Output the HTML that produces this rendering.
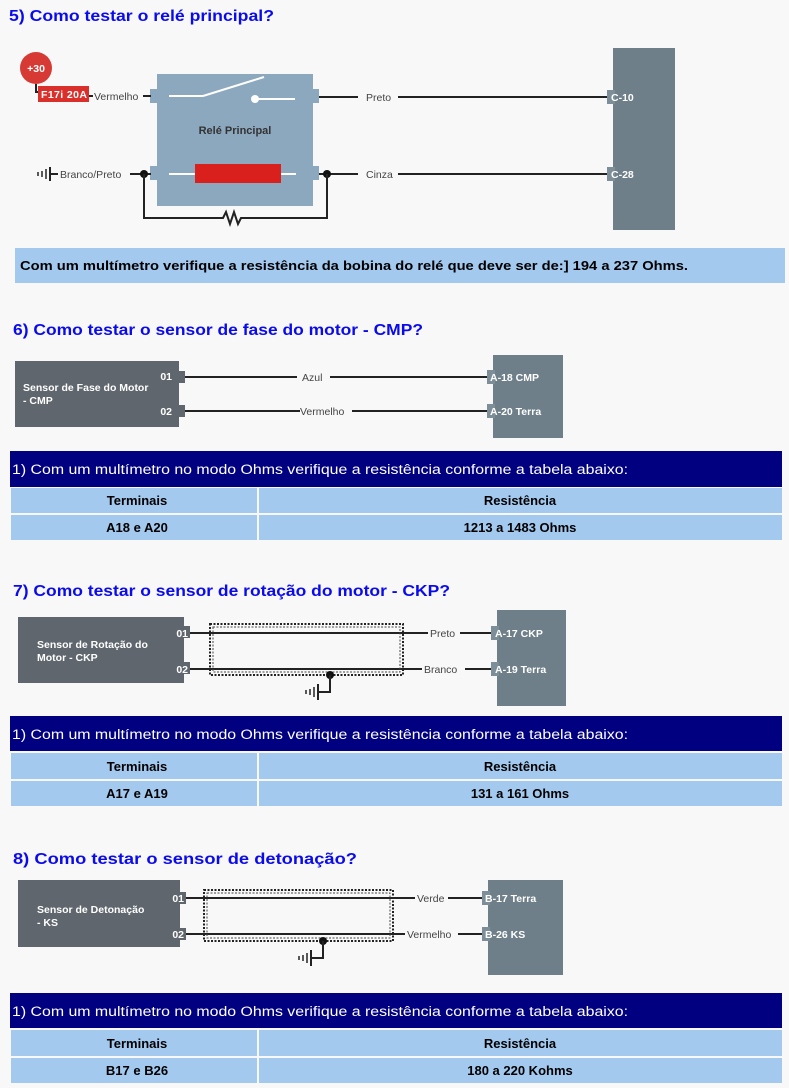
<!DOCTYPE html>
<html><head><meta charset="utf-8"><style>
html,body{margin:0;padding:0;background:#f8f8f8;}
svg{display:block;font-family:"Liberation Sans",Arial,sans-serif;}
.t{fill:#0a0aee;font-weight:bold;font-size:16px;}
.l{fill:#444;font-size:10.5px;}
.w{fill:#fff;font-weight:bold;font-size:10.5px;}
.nb{fill:#fff;font-size:13.5px;}
.tb{fill:#000;font-size:13px;font-weight:bold;}
.wire{stroke:#222;stroke-width:2;fill:none;}
.tab{fill:#7d8e99;}
</style></head><body>
<svg width="789" height="1088" viewBox="0 0 789 1088">
<!-- Section 5 -->
<text class="t" x="9" y="21" textLength="265" lengthAdjust="spacingAndGlyphs">5) Como testar o relé principal?</text>
<rect x="613" y="48" width="62" height="182" fill="#6e7f8a"/>
<rect x="607" y="90" width="8" height="14" class="tab"/>
<rect x="607" y="167" width="8" height="14" class="tab"/>
<rect x="157" y="74" width="156" height="132" fill="#8ca8bf"/>
<rect x="150" y="89" width="8" height="14" fill="#8ca8bf"/>
<rect x="150" y="166" width="8" height="14" fill="#8ca8bf"/>
<rect x="312" y="89" width="7" height="14" fill="#8ca8bf"/>
<rect x="312" y="166" width="7" height="14" fill="#8ca8bf"/>
<line x1="169" y1="96" x2="203" y2="96" stroke="#fff" stroke-width="2"/>
<line x1="203" y1="96" x2="264" y2="77" stroke="#fff" stroke-width="2"/>
<circle cx="255" cy="99" r="4" fill="#fff"/>
<line x1="255" y1="99" x2="295" y2="99" stroke="#fff" stroke-width="2"/>
<text x="235" y="134" text-anchor="middle" font-weight="bold" font-size="11" fill="#333">Relé Principal</text>
<line x1="169" y1="174" x2="296" y2="174" stroke="#fff" stroke-width="2"/>
<rect x="195" y="164" width="86" height="19" fill="#d9201c"/>
<circle cx="36" cy="68" r="16" fill="#d73a35"/>
<text x="36" y="72" text-anchor="middle" class="w" font-size="10">+30</text>
<path d="M36 84 V92 H40" class="wire" stroke-width="1.5"/>
<rect x="38" y="86" width="51" height="16" fill="#d9302c"/>
<text x="41" y="98" class="w" font-size="11" textLength="46">F17i 20A</text>
<line x1="89" y1="96" x2="93" y2="96" class="wire" stroke-width="1.5"/>
<text class="l" x="94" y="100">Vermelho</text>
<line x1="143" y1="96" x2="151" y2="96" class="wire"/>
<line x1="319" y1="97" x2="358" y2="97" class="wire"/>
<text class="l" x="366" y="101">Preto</text>
<line x1="398" y1="97" x2="607" y2="97" class="wire"/>
<text class="w" x="611" y="101">C-10</text>
<g stroke="#222" stroke-width="2"><line x1="50" y1="167" x2="50" y2="181"/><line x1="46" y1="169" x2="46" y2="179" stroke-width="1.5"/><line x1="42" y1="171" x2="42" y2="177" stroke-width="1.5"/><line x1="38" y1="172" x2="38" y2="176" stroke-width="1.5"/></g>
<line x1="50" y1="174" x2="58" y2="174" class="wire"/>
<text class="l" x="60" y="178">Branco/Preto</text>
<line x1="130" y1="174" x2="151" y2="174" class="wire"/>
<circle cx="144" cy="174" r="4" fill="#111"/>
<line x1="319" y1="174" x2="358" y2="174" class="wire"/>
<circle cx="327" cy="174" r="4" fill="#111"/>
<text class="l" x="366" y="178">Cinza</text>
<line x1="398" y1="174" x2="607" y2="174" class="wire"/>
<text class="w" x="611" y="178">C-28</text>
<path d="M144 174 V218 H223 l3 -6 l4 12 l4 -12 l4 12 l3 -6 H327 V174" class="wire"/>
<rect x="15" y="248" width="770" height="35" fill="#a3c9ef"/>
<text x="20" y="270" font-weight="bold" font-size="13" fill="#000" textLength="668" lengthAdjust="spacingAndGlyphs">Com um multímetro verifique a resistência da bobina do relé que deve ser de:] 194 a 237 Ohms.</text>

<!-- Section 6 -->
<text class="t" x="13" y="335" textLength="410" lengthAdjust="spacingAndGlyphs">6) Como testar o sensor de fase do motor - CMP?</text>
<rect x="493" y="355" width="70" height="83" fill="#6e7f8a"/>
<rect x="487" y="370" width="8" height="14" class="tab"/>
<rect x="487" y="404" width="8" height="14" class="tab"/>
<rect x="15" y="361" width="164" height="66" fill="#5f666d"/>
<rect x="178" y="371" width="7" height="12" fill="#5f666d"/>
<rect x="178" y="405" width="7" height="12" fill="#5f666d"/>
<text class="w" x="172" y="380" text-anchor="end">01</text>
<text class="w" x="172" y="415" text-anchor="end">02</text>
<text class="w" x="23" y="391" font-size="11">Sensor de Fase do Motor</text>
<text class="w" x="23" y="404" font-size="11">- CMP</text>
<line x1="185" y1="377" x2="297" y2="377" class="wire"/>
<text class="l" x="302" y="381">Azul</text>
<line x1="330" y1="377" x2="487" y2="377" class="wire"/>
<line x1="185" y1="411" x2="300" y2="411" class="wire"/>
<text class="l" x="300" y="415">Vermelho</text>
<line x1="352" y1="411" x2="487" y2="411" class="wire"/>
<text class="w" x="490" y="381" font-size="11">A-18 CMP</text>
<text class="w" x="490" y="415" font-size="11">A-20 Terra</text>
<rect x="10" y="451" width="772" height="36" fill="#000080"/>
<text class="nb" x="12" y="474" textLength="616" lengthAdjust="spacingAndGlyphs">1) Com um multímetro no modo Ohms verifique a resistência conforme a tabela abaixo:</text>
<rect x="11" y="488" width="246" height="25" fill="#a3c9ef"/><rect x="259" y="488" width="523" height="25" fill="#a3c9ef"/>
<rect x="11" y="515" width="246" height="25" fill="#a3c9ef"/><rect x="259" y="515" width="523" height="25" fill="#a3c9ef"/>
<text class="tb" x="137" y="505" text-anchor="middle">Terminais</text>
<text class="tb" x="520" y="505" text-anchor="middle">Resistência</text>
<text class="tb" x="137" y="532" text-anchor="middle">A18 e A20</text>
<text class="tb" x="520" y="532" text-anchor="middle">1213 a 1483 Ohms</text>

<!-- Section 7 -->
<text class="t" x="13" y="596" textLength="437" lengthAdjust="spacingAndGlyphs">7) Como testar o sensor de rotação do motor - CKP?</text>
<rect x="497" y="610" width="69" height="96" fill="#6e7f8a"/>
<rect x="491" y="626" width="8" height="14" class="tab"/>
<rect x="491" y="662" width="8" height="14" class="tab"/>
<rect x="18" y="617" width="166" height="66" fill="#5f666d"/>
<rect x="183" y="626" width="7" height="12" fill="#5f666d"/>
<rect x="183" y="662" width="7" height="12" fill="#5f666d"/>
<text class="w" x="188" y="637" text-anchor="end">01</text>
<text class="w" x="188" y="673" text-anchor="end">02</text>
<text class="w" x="37" y="648" font-size="11">Sensor de Rotação do</text>
<text class="w" x="37" y="661" font-size="11">Motor - CKP</text>
<line x1="190" y1="633" x2="428" y2="633" class="wire"/>
<text class="l" x="430" y="637">Preto</text>
<line x1="460" y1="633" x2="491" y2="633" class="wire"/>
<line x1="190" y1="669" x2="422" y2="669" class="wire"/>
<text class="l" x="424" y="673">Branco</text>
<line x1="465" y1="669" x2="491" y2="669" class="wire"/>
<text class="w" x="495" y="637" font-size="11">A-17 CKP</text>
<text class="w" x="495" y="673" font-size="11">A-19 Terra</text>
<rect x="210" y="624" width="193" height="51" fill="none" stroke="#222" stroke-width="2" stroke-dasharray="2,1.5"/>
<rect x="213" y="627" width="187" height="45" fill="none" stroke="#444" stroke-width="1" stroke-dasharray="2,1.5"/>
<circle cx="330" cy="675" r="4" fill="#111"/>
<path d="M330 675 V692 H318" class="wire"/>
<g stroke="#222"><line x1="318" y1="684" x2="318" y2="700" stroke-width="2"/><line x1="314" y1="687" x2="314" y2="697" stroke-width="1.5"/><line x1="310" y1="689" x2="310" y2="695" stroke-width="1.5"/><line x1="306" y1="690" x2="306" y2="694" stroke-width="1.5"/></g>
<rect x="10" y="716" width="772" height="35" fill="#000080"/>
<text class="nb" x="12" y="739" textLength="616" lengthAdjust="spacingAndGlyphs">1) Com um multímetro no modo Ohms verifique a resistência conforme a tabela abaixo:</text>
<rect x="11" y="753" width="246" height="26" fill="#a3c9ef"/><rect x="259" y="753" width="523" height="26" fill="#a3c9ef"/>
<rect x="11" y="781" width="246" height="25" fill="#a3c9ef"/><rect x="259" y="781" width="523" height="25" fill="#a3c9ef"/>
<text class="tb" x="137" y="771" text-anchor="middle">Terminais</text>
<text class="tb" x="520" y="771" text-anchor="middle">Resistência</text>
<text class="tb" x="137" y="798" text-anchor="middle">A17 e A19</text>
<text class="tb" x="520" y="798" text-anchor="middle">131 a 161 Ohms</text>

<!-- Section 8 -->
<text class="t" x="13" y="864" textLength="344" lengthAdjust="spacingAndGlyphs">8) Como testar o sensor de detonação?</text>
<rect x="488" y="880" width="75" height="95" fill="#6e7f8a"/>
<rect x="482" y="891" width="8" height="14" class="tab"/>
<rect x="482" y="927" width="8" height="14" class="tab"/>
<rect x="18" y="880" width="162" height="67" fill="#5f666d"/>
<rect x="179" y="892" width="7" height="12" fill="#5f666d"/>
<rect x="179" y="928" width="7" height="12" fill="#5f666d"/>
<text class="w" x="184" y="902" text-anchor="end">01</text>
<text class="w" x="184" y="938" text-anchor="end">02</text>
<text class="w" x="37" y="913" font-size="11">Sensor de Detonação</text>
<text class="w" x="37" y="926" font-size="11">- KS</text>
<line x1="186" y1="898" x2="415" y2="898" class="wire"/>
<text class="l" x="417" y="902">Verde</text>
<line x1="448" y1="898" x2="482" y2="898" class="wire"/>
<line x1="186" y1="934" x2="405" y2="934" class="wire"/>
<text class="l" x="407" y="938">Vermelho</text>
<line x1="458" y1="934" x2="482" y2="934" class="wire"/>
<text class="w" x="485" y="902" font-size="11">B-17 Terra</text>
<text class="w" x="485" y="938" font-size="11">B-26 KS</text>
<rect x="204" y="890" width="189" height="51" fill="none" stroke="#222" stroke-width="2" stroke-dasharray="2,1.5"/>
<rect x="207" y="893" width="183" height="45" fill="none" stroke="#444" stroke-width="1" stroke-dasharray="2,1.5"/>
<circle cx="323" cy="941" r="4" fill="#111"/>
<path d="M323 941 V958 H311" class="wire"/>
<g stroke="#222"><line x1="311" y1="950" x2="311" y2="966" stroke-width="2"/><line x1="307" y1="953" x2="307" y2="963" stroke-width="1.5"/><line x1="303" y1="955" x2="303" y2="961" stroke-width="1.5"/><line x1="299" y1="956" x2="299" y2="960" stroke-width="1.5"/></g>
<rect x="10" y="993" width="772" height="35" fill="#000080"/>
<text class="nb" x="12" y="1016" textLength="616" lengthAdjust="spacingAndGlyphs">1) Com um multímetro no modo Ohms verifique a resistência conforme a tabela abaixo:</text>
<rect x="11" y="1030" width="246" height="26" fill="#a3c9ef"/><rect x="259" y="1030" width="523" height="26" fill="#a3c9ef"/>
<rect x="11" y="1058" width="246" height="25" fill="#a3c9ef"/><rect x="259" y="1058" width="523" height="25" fill="#a3c9ef"/>
<text class="tb" x="137" y="1048" text-anchor="middle">Terminais</text>
<text class="tb" x="520" y="1048" text-anchor="middle">Resistência</text>
<text class="tb" x="137" y="1075" text-anchor="middle">B17 e B26</text>
<text class="tb" x="520" y="1075" text-anchor="middle">180 a 220 Kohms</text>
</svg>
</body></html>
